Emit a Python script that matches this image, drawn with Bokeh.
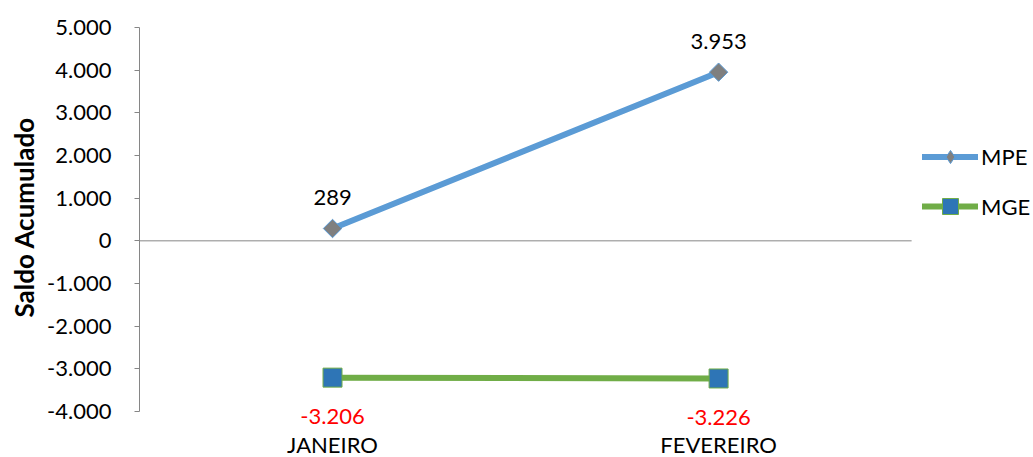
import math
from bokeh.plotting import figure
from bokeh.models import Range1d, FixedTicker, Legend, LegendItem, Title
from bokeh.core.properties import value
from bokeh.embed import file_html
from bokeh.resources import INLINE

categories = ["JANEIRO", "FEVEREIRO"]
mpe = [289, 3953]
mge = [-3206, -3226]
y_ticks = [-4000, -3000, -2000, -1000, 0, 1000, 2000, 3000, 4000, 5000]


def fmt(v):
    return f"{v:,}".replace(",", ".")


n = len(categories)
x = [i + 0.5 for i in range(n)]
FONT = "Lato"

p = figure(width=1033, height=457, output_backend="svg", toolbar_location=None,
           x_range=Range1d(0, 2.3157), y_range=Range1d(-5078, 5000),
           x_axis_type=None,
           min_border_left=138, min_border_right=0, min_border_top=27, min_border_bottom=0)
p.outline_line_color = None
p.grid.visible = False

yax = p.yaxis[0]
yax.ticker = FixedTicker(ticks=y_ticks)
yax.major_label_overrides = {t: fmt(t) for t in y_ticks}
yax.bounds = (y_ticks[0], y_ticks[-1])
yax.axis_line_color = "#868686"
yax.major_tick_line_color = "#868686"
yax.major_tick_out = 5
yax.major_tick_in = 0
yax.minor_tick_line_color = None
yax.major_label_text_font = FONT
yax.major_label_text_font_size = "22px"
yax.major_label_text_color = "black"
yax.major_label_standoff = 23

p.add_layout(Title(text="Saldo Acumulado", align="left", offset=140, standoff=10,
                   text_font=FONT, text_font_style="bold", text_font_size="26px",
                   text_color="black"), "left")

# category axis line at zero
p.segment(x0=[0], y0=[0], x1=[n], y1=[0], line_color="#868686", line_width=1)

l1 = p.line(x, mpe, line_color="#5B9BD5", line_width=6, line_cap="round")
d1 = p.scatter(x, mpe, marker="diamond", size=13,
               fill_color="#7F7F7F", line_color="#5B9BD5", line_width=1)
s1 = p.scatter(x, mpe, marker="square", angle=math.pi / 4, size=13,
               fill_color="#7F7F7F", line_color="#5B9BD5", line_width=1)
l2 = p.line(x, mge, line_color="#70AD47", line_width=6, line_cap="round")
s2 = p.scatter(x, mge, marker="square", size=19,
               fill_color="#2E75B6", line_color="#70AD47", line_width=1)

p.text(x, mpe, text=[fmt(v) for v in mpe], y_offset=-31, text_align="center",
       text_baseline="middle", text_font=value(FONT), text_font_size="22px", text_color="black")
p.text(x, mge, text=[fmt(v) for v in mge], y_offset=39, text_align="center",
       text_baseline="middle", text_font=value(FONT), text_font_size="22px", text_color="#FF0000")
p.text(x, [y_ticks[0]] * n, text=categories, y_offset=33, text_align="center",
       text_baseline="middle", text_font=value(FONT), text_font_size="22px", text_color="black")

common = dict(glyph_width=56, padding=0, margin=0, border_line_color=None,
              background_fill_alpha=0, label_text_font=FONT, label_text_font_size="22px",
              label_text_color="black", label_standoff=3)
leg1 = Legend(items=[LegendItem(label="MPE", renderers=[l1, d1])], location=(783, 284),
              glyph_height=33, **common)
leg2 = Legend(items=[LegendItem(label="MGE", renderers=[l2, s2])], location=(783, 231),
              glyph_height=40, **common)
p.add_layout(leg1)
p.add_layout(leg2)

open("out.html", "w").write(file_html(p, INLINE))
